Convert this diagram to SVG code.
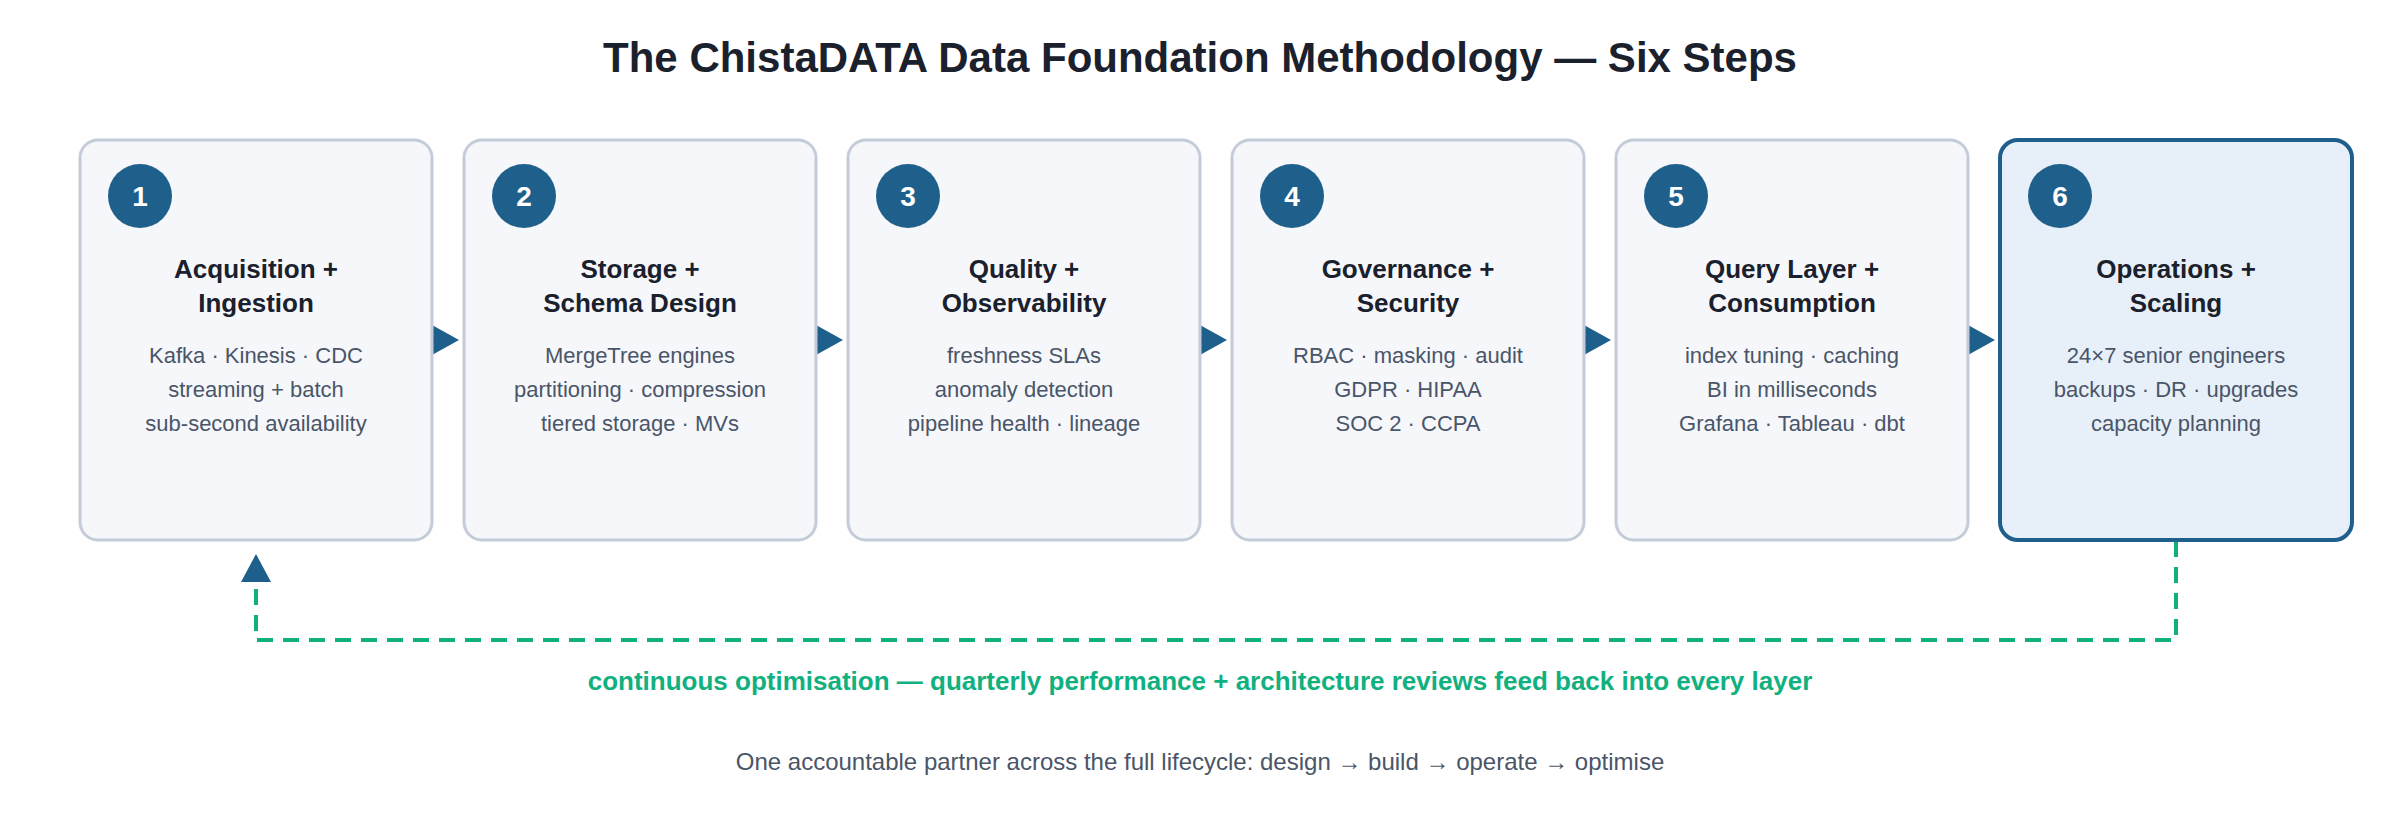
<svg xmlns="http://www.w3.org/2000/svg" width="2400" height="840" viewBox="0 0 2400 840">
<style>
text{font-family:"Liberation Sans",Arial,sans-serif;text-anchor:middle}
.title{font-size:42px;font-weight:bold;fill:#1a202c}
.box{fill:#f5f7fb;stroke:#c3ccd8;stroke-width:3}
.hl{fill:#e7f0f9;stroke:#1f5f8b;stroke-width:4}
.num{fill:#1f5f8b}
.nt{font-size:28px;font-weight:bold;fill:#fff}
.h{font-size:26px;font-weight:bold;fill:#1a202c}
.d{font-size:22px;fill:#4a5568}
.ah{fill:#1f5f8b}
.fb{fill:none;stroke:#10b07f;stroke-width:4;stroke-dasharray:16 10}
.g{font-size:26px;font-weight:bold;fill:#10b07f}
.f{font-size:24px;fill:#4a5568}
</style>
<text class="title" x="1200" y="72">The ChistaDATA Data Foundation Methodology — Six Steps</text>
<g id="connectors">
<polygon class="ah" points="432,325 459,340 432,355"/>
<polygon class="ah" points="816,325 843,340 816,355"/>
<polygon class="ah" points="1200,325 1227,340 1200,355"/>
<polygon class="ah" points="1584,325 1611,340 1584,355"/>
<polygon class="ah" points="1968,325 1995,340 1968,355"/>
<path class="fb" d="M2176,541 V640 H256 V584"/>
<polygon class="ah" points="256,554 241,582 271,582"/>
</g>
<g id="step1"><rect class="box" x="80" y="140" width="352" height="400" rx="18"/><circle class="num" cx="140" cy="196" r="32"/><text class="nt" x="140" y="206">1</text><text class="h" x="256" y="278">Acquisition +</text><text class="h" x="256" y="312">Ingestion</text><text class="d" x="256" y="363">Kafka · Kinesis · CDC</text><text class="d" x="256" y="397">streaming + batch</text><text class="d" x="256" y="431">sub-second availability</text></g>
<g id="step2"><rect class="box" x="464" y="140" width="352" height="400" rx="18"/><circle class="num" cx="524" cy="196" r="32"/><text class="nt" x="524" y="206">2</text><text class="h" x="640" y="278">Storage +</text><text class="h" x="640" y="312">Schema Design</text><text class="d" x="640" y="363">MergeTree engines</text><text class="d" x="640" y="397">partitioning · compression</text><text class="d" x="640" y="431">tiered storage · MVs</text></g>
<g id="step3"><rect class="box" x="848" y="140" width="352" height="400" rx="18"/><circle class="num" cx="908" cy="196" r="32"/><text class="nt" x="908" y="206">3</text><text class="h" x="1024" y="278">Quality +</text><text class="h" x="1024" y="312">Observability</text><text class="d" x="1024" y="363">freshness SLAs</text><text class="d" x="1024" y="397">anomaly detection</text><text class="d" x="1024" y="431">pipeline health · lineage</text></g>
<g id="step4"><rect class="box" x="1232" y="140" width="352" height="400" rx="18"/><circle class="num" cx="1292" cy="196" r="32"/><text class="nt" x="1292" y="206">4</text><text class="h" x="1408" y="278">Governance +</text><text class="h" x="1408" y="312">Security</text><text class="d" x="1408" y="363">RBAC · masking · audit</text><text class="d" x="1408" y="397">GDPR · HIPAA</text><text class="d" x="1408" y="431">SOC 2 · CCPA</text></g>
<g id="step5"><rect class="box" x="1616" y="140" width="352" height="400" rx="18"/><circle class="num" cx="1676" cy="196" r="32"/><text class="nt" x="1676" y="206">5</text><text class="h" x="1792" y="278">Query Layer +</text><text class="h" x="1792" y="312">Consumption</text><text class="d" x="1792" y="363">index tuning · caching</text><text class="d" x="1792" y="397">BI in milliseconds</text><text class="d" x="1792" y="431">Grafana · Tableau · dbt</text></g>
<g id="step6"><rect class="hl" x="2000" y="140" width="352" height="400" rx="18"/><circle class="num" cx="2060" cy="196" r="32"/><text class="nt" x="2060" y="206">6</text><text class="h" x="2176" y="278">Operations +</text><text class="h" x="2176" y="312">Scaling</text><text class="d" x="2176" y="363">24×7 senior engineers</text><text class="d" x="2176" y="397">backups · DR · upgrades</text><text class="d" x="2176" y="431">capacity planning</text></g>
<text class="g" x="1200" y="690">continuous optimisation — quarterly performance + architecture reviews feed back into every layer</text>
<text class="f" x="1200" y="770">One accountable partner across the full lifecycle: design → build → operate → optimise</text>
</svg>
